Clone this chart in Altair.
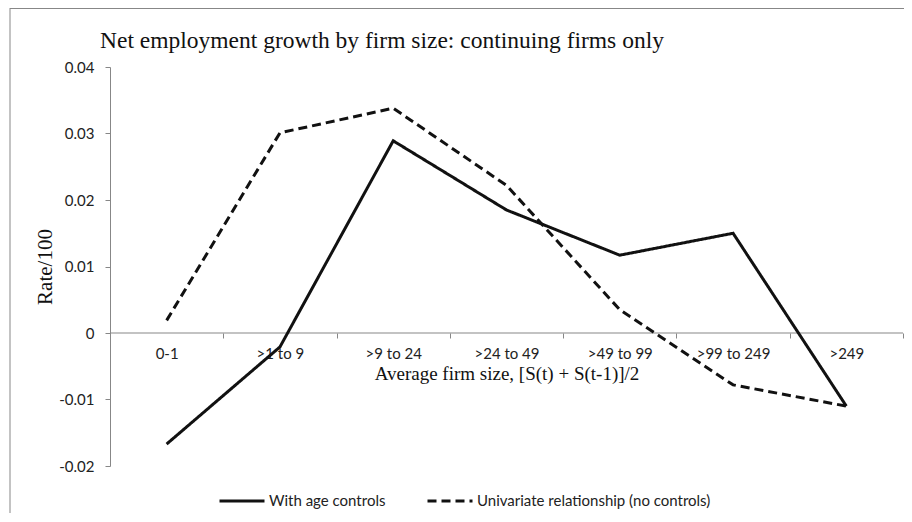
import altair as alt
import pandas as pd

categories = ["0-1", ">1 to 9", ">9 to 24", ">24 to 49", ">49 to 99", ">99 to 249", ">249"]
with_age_controls = [-0.0167, -0.0021, 0.0289, 0.0185, 0.0117, 0.0150, -0.0110]
univariate = [0.0019, 0.0301, 0.0338, 0.0222, 0.0035, -0.0078, -0.0110]
series_names = ["With age controls", "Univariate relationship (no controls)"]
y_ticks = [-0.02, -0.01, 0, 0.01, 0.02, 0.03, 0.04]
title_text = ["Net employment growth by firm size: continuing firms only"]
x_title = "Average firm size, [S(t) + S(t-1)]/2"
y_title = "Rate/100"

rows = []
for s, vals in zip(series_names, [with_age_controls, univariate]):
    for c, v in zip(categories, vals):
        rows.append({"size": c, "rate": v, "series": s})
df = pd.DataFrame(rows)

W, H = 793, 399
Y_MIN, Y_MAX = -0.02, 0.04
AXIS_GRAY = "#878787"
SANS = "Lato"
SERIF = "Liberation Serif"
INK = "#111111"

zero_offset = -H * (0 - Y_MIN) / (Y_MAX - Y_MIN)

x_axis = alt.Axis(
    title=x_title, orient="bottom", offset=zero_offset, tickBand="extent",
    domain=False, tickColor=AXIS_GRAY, tickSize=5, labelAngle=0,
    labelFont=SANS, labelFontSize=15, labelColor="#222222", labelPadding=8,
    titleFont=SERIF, titleFontSize=19, titleFontWeight="normal", titleColor=INK,
    titlePadding=3, grid=False,
)
y_axis = alt.Axis(
    title=y_title, values=y_ticks, grid=False, domainColor=AXIS_GRAY, tickColor=AXIS_GRAY,
    tickSize=5, labelPadding=11, labelFont=SANS, labelFontSize=15, labelColor="#222222",
    labelFlush=False, labelOverlap=False,
    labelExpr="datum.value == 0 ? '0' : (datum.value < 0 ? '-' + format(-datum.value, '.2f') : format(datum.value, '.2f'))",
    titleFont=SERIF, titleFontSize=21, titleFontWeight="normal", titleColor=INK, titlePadding=3,
)
y_scale = alt.Scale(domain=[Y_MIN, Y_MAX], nice=False, zero=False)

zero_line = alt.Chart(alt.Data(values=[{}])).mark_rule(color=AXIS_GRAY, strokeWidth=1).encode(
    y=alt.Y(datum=0, scale=y_scale, axis=y_axis)
)

lines = alt.Chart(df).mark_line(color=INK, strokeWidth=3, strokeCap="butt").encode(
    x=alt.X("size:N", sort=categories, bandPosition=0.5,
            scale=alt.Scale(type="band", paddingInner=0, paddingOuter=0), axis=x_axis),
    y=alt.Y("rate:Q", scale=y_scale, axis=y_axis),
    strokeDash=alt.StrokeDash(
        "series:N", sort=series_names,
        scale=alt.Scale(domain=series_names, range=[[1, 0], [9, 5]]),
        legend=alt.Legend(
            title=None, orient="none", legendX=108, legendY=410, direction="horizontal",
            symbolType="stroke", symbolSize=2025, symbolStrokeWidth=3, symbolStrokeColor=INK,
            labelFont=SANS, labelFontSize=15, labelColor="#222222", columnPadding=35,
            labelOffset=3, padding=0, labelLimit=500,
        ),
    ),
)

border_left = alt.Chart(alt.Data(values=[{}])).mark_rule(color=AXIS_GRAY, strokeWidth=1).encode(
    x=alt.value(-100), y=alt.value(-59), y2=alt.value(460)
)
border_top = alt.Chart(alt.Data(values=[{}])).mark_rule(color=AXIS_GRAY, strokeWidth=1).encode(
    x=alt.value(-100), x2=alt.value(794), y=alt.value(-58.5)
)
title = alt.Chart(alt.Data(values=[{"t": t} for t in title_text])).mark_text(
    align="left", baseline="alphabetic", font=SERIF, fontSize=23.5, color=INK
).encode(x=alt.value(-10), y=alt.value(-19), text="t:N")

chart = alt.layer(border_left, border_top, title, zero_line, lines).properties(
    width=W, height=H,
    autosize=alt.AutoSizeParams(type="none"),
    padding={"left": 102, "top": 59, "right": 1, "bottom": 47},
).configure_view(stroke=None)

chart.save("out.html", embed_options={"renderer": "svg", "actions": False})
